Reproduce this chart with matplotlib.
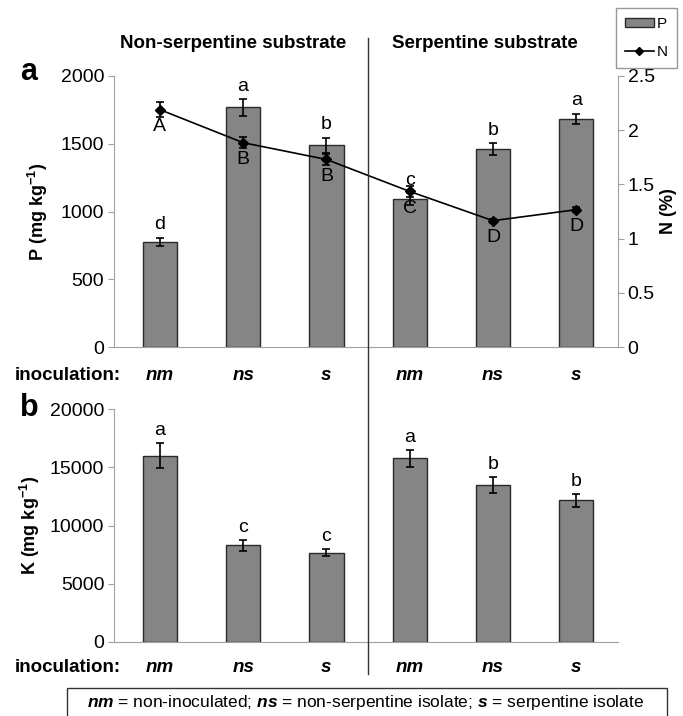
import matplotlib
matplotlib.use("Agg")
import matplotlib.pyplot as plt
from matplotlib.lines import Line2D
from matplotlib.patches import Patch, Rectangle
import numpy as np

plt.rcParams['font.family'] = ['Liberation Sans', 'DejaVu Sans']
plt.rcParams['mathtext.fontset'] = 'custom'
plt.rcParams['mathtext.rm'] = 'Liberation Sans'
plt.rcParams['mathtext.bf'] = 'Liberation Sans:bold'
plt.rcParams['mathtext.bfit'] = 'Liberation Sans:italic:bold'

# ---- data ----
inoculation = ["nm", "ns", "s", "nm", "ns", "s"]
substrates = ["Non-serpentine substrate", "Serpentine substrate"]

P_values = [777, 1769, 1488, 1090, 1463, 1685]
P_errors = [30, 62, 58, 45, 44, 38]
P_letters = ["d", "a", "b", "c", "b", "a"]

N_values = [2.19, 1.885, 1.73, 1.435, 1.165, 1.267]
N_errors = [0.07, 0.05, 0.05, 0.05, 0.02, 0.02]
N_letters = ["A", "B", "B", "C", "D", "D"]

K_values = [15980, 8290, 7660, 15780, 13490, 12170]
K_errors = [1070, 460, 290, 720, 660, 545]
K_letters = ["a", "c", "c", "a", "b", "b"]

P_ticks = [0, 500, 1000, 1500, 2000]
N_ticks = [0, 0.5, 1, 1.5, 2, 2.5]
N_ticklabels = ["0", "0.5", "1", "1.5", "2", "2.5"]
K_ticks = [0, 5000, 10000, 15000, 20000]

# ---- style ----
BAR = "#858585"
EDGE = "#2a2a2a"
SPINE = "#a0a0a0"
W, H = 683, 716
TFS = 14

fig = plt.figure(figsize=(W / 100, H / 100), dpi=100)

def fx(px):
    return px / W

def fy(py):
    return 1 - py / H

x = np.arange(len(inoculation))

def style_axis(ax):
    for s in ["top", "right"]:
        ax.spines[s].set_visible(False)
    ax.spines["left"].set_color(SPINE)
    ax.spines["bottom"].set_color(SPINE)
    ax.tick_params(axis="y", direction="out", length=4, color=SPINE,
                   labelsize=TFS, pad=3)
    ax.tick_params(axis="x", length=0, labelbottom=False)
    ax.set_xlim(-0.55, 5.5)

# ---- panel a ----
axA = fig.add_axes([fx(114), fy(347), fx(618) - fx(114), fy(76) - fy(347)])
axA.bar(x, P_values, width=0.41, color=BAR, edgecolor=EDGE, linewidth=1.0, zorder=2)
axA.errorbar(x, P_values, yerr=P_errors, fmt="none", ecolor="black",
             elinewidth=1.2, capsize=3, capthick=1.2, zorder=3)
axA.set_ylim(0, 2000)
axA.set_yticks(P_ticks)
style_axis(axA)
axA.set_ylabel(r"P (mg kg$^{\mathbf{-1}}$)", fontsize=13, fontweight="bold", labelpad=8)
for xi, v, e, l in zip(x, P_values, P_errors, P_letters):
    axA.annotate(l, (xi, v + e), xytext=(0, 3), textcoords="offset points",
                 ha="center", va="bottom", fontsize=TFS)

axN = axA.twinx()
axN.set_xlim(-0.55, 5.5)
axN.set_ylim(0, 2.5)
axN.set_yticks(N_ticks)
axN.set_yticklabels(N_ticklabels)
for s in ["top", "left", "bottom"]:
    axN.spines[s].set_visible(False)
axN.spines["right"].set_color(SPINE)
axN.tick_params(axis="y", direction="out", length=4, color=SPINE, labelsize=TFS, pad=3)
axN.errorbar(x, N_values, yerr=N_errors, fmt="-D", color="black", markersize=5,
             linewidth=1.2, elinewidth=1.2, capsize=3, capthick=1.2, zorder=4)
axN.set_ylabel("N (%)", fontsize=13, fontweight="bold", labelpad=4)
for xi, v, l in zip(x, N_values, N_letters):
    axN.annotate(l, (xi, v), xytext=(0, -6), textcoords="offset points",
                 ha="center", va="top", fontsize=TFS)

# ---- panel b ----
axB = fig.add_axes([fx(114), fy(642), fx(618) - fx(114), fy(409) - fy(642)])
axB.bar(x, K_values, width=0.41, color=BAR, edgecolor=EDGE, linewidth=1.0, zorder=2)
axB.errorbar(x, K_values, yerr=K_errors, fmt="none", ecolor="black",
             elinewidth=1.2, capsize=3, capthick=1.2, zorder=3)
axB.set_ylim(0, 20000)
axB.set_yticks(K_ticks)
style_axis(axB)
axB.set_ylabel(r"K (mg kg$^{\mathbf{-1}}$)", fontsize=13, fontweight="bold", labelpad=6)
for xi, v, e, l in zip(x, K_values, K_errors, K_letters):
    axB.annotate(l, (xi, v + e), xytext=(0, 3), textcoords="offset points",
                 ha="center", va="bottom", fontsize=TFS)

# ---- inoculation label rows ----
for ax, ypx in [(axA, 375), (axB, 668)]:
    fig.text(fx(15), fy(ypx), "inoculation:", fontsize=13.5, fontweight="bold",
             ha="left", va="center")
    for xi, lab in zip(x, inoculation):
        xf = fig.transFigure.inverted().transform(ax.transData.transform((xi, 0)))[0]
        fig.text(xf, fy(ypx), lab, fontsize=13.5, fontweight="bold", style="italic",
                 ha="center", va="center")

# ---- substrate titles ----
fig.text(fx(233), fy(44), substrates[0], fontsize=13.5, fontweight="bold", ha="center", va="center")
fig.text(fx(485), fy(44), substrates[1], fontsize=13.5, fontweight="bold", ha="center", va="center")

# panel letters
fig.text(fx(20), fy(72), "a", fontsize=22, fontweight="bold", ha="left", va="center")
fig.text(fx(20), fy(408), "b", fontsize=22, fontweight="bold", ha="left", va="center")

# divider
xdiv = fig.transFigure.inverted().transform(axA.transData.transform((2.5, 0)))[0]
fig.add_artist(Line2D([xdiv, xdiv], [fy(38), fy(674)], color="#333333", linewidth=1.0,
                      transform=fig.transFigure))

# legend
handles = [Patch(facecolor=BAR, edgecolor=EDGE, label="P"),
           Line2D([0], [0], color="black", marker="D", markersize=4, linewidth=1.2, label="N")]
leg = fig.legend(handles=handles, loc="upper right",
                 bbox_to_anchor=(fx(677), fy(8)), frameon=True, fancybox=False,
                 edgecolor="#808080", fontsize=11, handlelength=1.9, handleheight=0.5,
                 labelspacing=0.9, borderpad=0.6, handletextpad=0.2, borderaxespad=0.0)
leg.get_frame().set_linewidth(1.0)

# bottom note box (cut off at the bottom edge)
fig.add_artist(Rectangle((fx(67), fy(722)), fx(667) - fx(67), fy(688) - fy(722),
                         transform=fig.transFigure, fill=False, edgecolor="#333333",
                         linewidth=1.0))
fig.text(fx(366), fy(703),
         r"$\mathbfit{nm}$ = non-inoculated; $\mathbfit{ns}$ = non-serpentine isolate; $\mathbfit{s}$ = serpentine isolate",
         fontsize=12.5, ha="center", va="center")

fig.savefig("out.png", dpi=100)
